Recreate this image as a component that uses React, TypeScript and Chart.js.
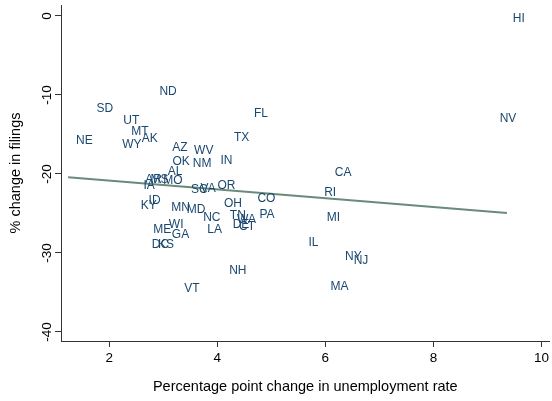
import { useEffect, useRef } from "react";
import { Chart, registerables } from "chart.js";

Chart.register(...registerables);

const states = [
  "HI", "NV", "ND", "SD", "UT", "MT", "AK", "NE", "WY", "FL",
  "TX", "AZ", "WV", "OK", "NM", "IN", "AL", "CA", "AR", "MS",
  "MO", "IA", "SC", "VA", "OR", "RI", "CO", "KY", "ID", "MN",
  "MD", "OH", "NC", "TN", "WA", "PA", "MI", "DE", "CT", "ME",
  "WI", "GA", "LA", "IL", "KS", "DC", "NY", "NJ", "NH", "VT", "MA",
];
const unempChange = [
  9.58, 9.38, 3.09, 1.92, 2.41, 2.57, 2.75, 1.54, 2.42, 4.81,
  4.45, 3.31, 3.75, 3.33, 3.72, 4.17, 3.22, 6.33, 2.82, 2.93,
  3.18, 2.74, 3.67, 3.83, 4.17, 6.09, 4.91, 2.73, 2.84, 3.32,
  3.61, 4.29, 3.9, 4.38, 4.54, 4.92, 6.15, 4.44, 4.55, 2.98,
  3.24, 3.32, 3.95, 5.78, 3.05, 2.95, 6.52, 6.66, 4.38, 3.53, 6.26,
];
const filingsChange = [
  -0.38, -12.96, -9.59, -11.69, -13.27, -14.66, -15.5, -15.8, -16.26, -12.33,
  -15.37, -16.66, -17.07, -18.5, -18.66, -18.37, -19.73, -19.85, -20.69, -20.69,
  -20.91, -21.51, -21.96, -21.83, -21.45, -22.34, -23.1, -24.07, -23.44, -24.24,
  -24.49, -23.73, -25.5, -25.34, -25.76, -25.21, -25.5, -26.48, -26.61, -27.11,
  -26.48, -27.66, -27.03, -28.72, -29.01, -29.01, -30.5, -31.0, -32.18, -34.46, -34.3,
];
const fitX = [1.24, 9.36];
const fitY = [-20.4, -24.95];
const xTicks = [2, 4, 6, 8, 10];
const yTicks = [0, -10, -20, -30, -40];

const FONT = "'Liberation Sans', Arial, sans-serif";
const LABEL_COLOR = "#1a476f";
const AXIS_COLOR = "#333333";

export default function App() {
  const ref = useRef<HTMLCanvasElement | null>(null);

  useEffect(() => {
    if (!ref.current) return;
    const labelPlugin = {
      id: "stateLabels",
      afterDatasetsDraw(chart: any) {
        const ctx = chart.ctx;
        const xs = chart.scales.x;
        const ys = chart.scales.y;
        ctx.save();
        ctx.font = `12px ${FONT}`;
        ctx.fillStyle = LABEL_COLOR;
        ctx.textAlign = "center";
        ctx.textBaseline = "middle";
        states.forEach((s, i) => {
          ctx.fillText(s, xs.getPixelForValue(unempChange[i]), ys.getPixelForValue(filingsChange[i]));
        });
        ctx.restore();
      },
      afterDraw(chart: any) {
        const ctx = chart.ctx;
        const ys = chart.scales.y;
        ctx.save();
        ctx.font = `13.5px ${FONT}`;
        ctx.fillStyle = "#000";
        ctx.textAlign = "center";
        ctx.textBaseline = "middle";
        yTicks.forEach((v) => {
          ctx.save();
          ctx.translate(47, ys.getPixelForValue(v));
          ctx.rotate(-Math.PI / 2);
          ctx.fillText(String(v), 0, 0);
          ctx.restore();
        });
        ctx.restore();
      },
    };

    const chart = new Chart(ref.current, {
      type: "scatter",
      data: {
        datasets: [
          {
            label: "states",
            data: states.map((_, i) => ({ x: unempChange[i], y: filingsChange[i] })),
            pointRadius: 0,
            pointHoverRadius: 0,
          },
          {
            type: "line",
            label: "fit",
            data: fitX.map((x, i) => ({ x, y: fitY[i] })),
            borderColor: "#6a8a7a",
            borderWidth: 2,
            pointRadius: 0,
            showLine: true,
            fill: false,
          } as any,
        ],
      },
      options: {
        responsive: false,
        animation: false,
        layout: { padding: { top: 5, right: 1, left: 0, bottom: 0 } },
        plugins: {
          legend: { display: false },
          tooltip: { enabled: false },
        },
        scales: {
          x: {
            type: "linear",
            min: 1.108,
            max: 10.15,
            afterBuildTicks: (s: any) => {
              s.ticks = xTicks.map((v) => ({ value: v }));
            },
            afterFit: (s: any) => {
              s.height = 60;
            },
            grid: {
              display: true,
              drawOnChartArea: false,
              drawTicks: true,
              tickLength: 6,
              color: AXIS_COLOR,
            },
            border: { display: true, color: AXIS_COLOR, width: 1 },
            ticks: {
              color: "#000",
              font: { family: FONT, size: 13.5 },
              padding: 3,
              maxRotation: 0,
              minRotation: 0,
            },
            title: {
              display: true,
              text: "Percentage point change in unemployment rate",
              color: "#000",
              font: { family: FONT, size: 14.5 },
              padding: { top: 0, bottom: 5 },
            },
          },
          y: {
            type: "linear",
            min: -41.14,
            max: 1.39,
            afterBuildTicks: (s: any) => {
              s.ticks = yTicks.map((v) => ({ value: v }));
            },
            afterFit: (s: any) => {
              s.width = 61;
            },
            grid: {
              display: true,
              drawOnChartArea: false,
              drawTicks: true,
              tickLength: 6,
              color: AXIS_COLOR,
            },
            border: { display: true, color: AXIS_COLOR, width: 1 },
            ticks: { display: false },
            title: {
              display: true,
              text: "% change in filings",
              color: "#000",
              font: { family: FONT, size: 14.5 },
              padding: { top: 7, bottom: 0 },
            },
          },
        },
      },
      plugins: [labelPlugin],
    });
    return () => chart.destroy();
  }, []);

  return (
    <div style={{ position: "absolute", left: 0, top: 0, width: 552, height: 401, background: "#fff" }}>
      <canvas ref={ref} width={552} height={401} />
    </div>
  );
}
